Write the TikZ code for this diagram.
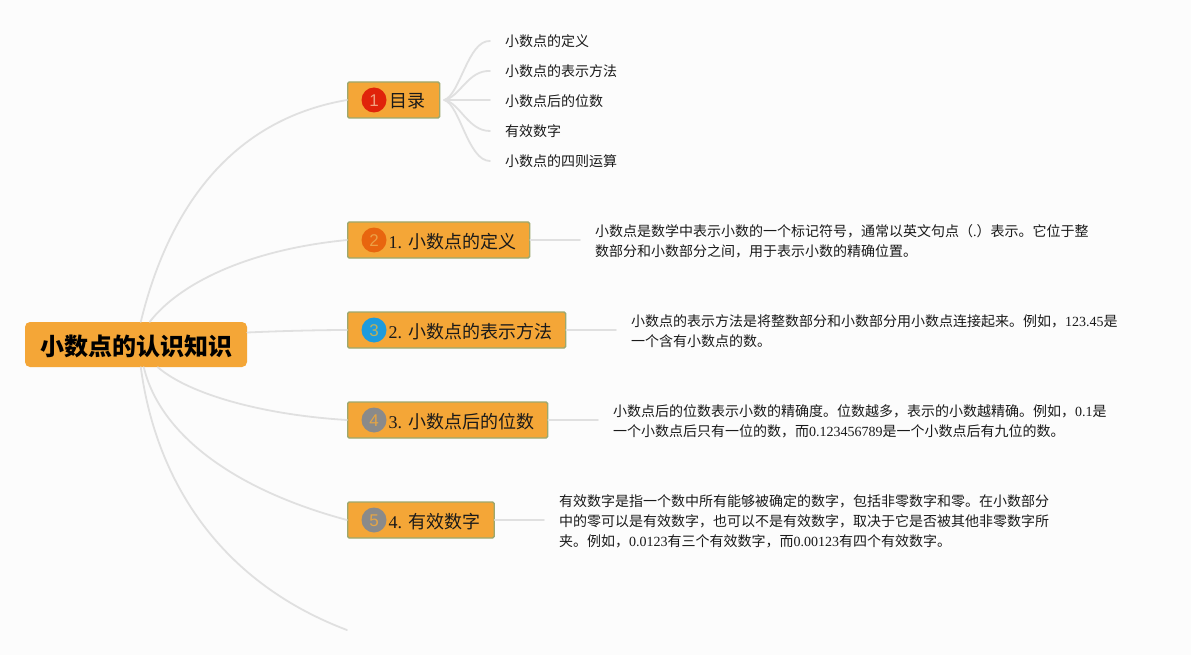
\documentclass[tikz,border=0pt]{standalone}
\usepackage{fontspec}
\usetikzlibrary{calc}
\setmainfont{Liberation Serif}
\newfontfamily\cjk{Noto Sans CJK SC}
\newfontfamily\badgefont{Liberation Sans}
\newcommand\zh[1]{{\cjk #1}}
\newcommand\lowered[2]{\raisebox{-#1}[\height][\depth]{#2}}
\definecolor{bgc}{HTML}{FCFCFC}
\definecolor{boxc}{HTML}{F4A637}
\definecolor{edgec}{HTML}{9CA86E}
\definecolor{linkc}{HTML}{E0E0E0}
\definecolor{txtc}{HTML}{1A1A1A}
\definecolor{bred}{HTML}{E0230A}
\definecolor{bredt}{HTML}{F0A080}
\definecolor{borange}{HTML}{E8650F}
\definecolor{borat}{HTML}{ECA046}
\definecolor{bblue}{HTML}{1E9BDC}
\definecolor{bbluet}{HTML}{BEAF5A}
\definecolor{bgray}{HTML}{8A8A8A}
\definecolor{bgrayt}{HTML}{E4A546}
\tikzset{
  x=1pt,y=-1pt,
  link/.style={draw=linkc,line width=1.8pt,line cap=round},
  rootbox/.style={fill=boxc,rounded corners=5pt,minimum width=222pt,minimum height=45pt,inner sep=0pt,font=\fontsize{24}{28}\selectfont\cjk\bfseries,text=black},
  branchbox/.style={fill=boxc,draw=edgec,line width=1.3pt,rounded corners=1.5pt,minimum height=36pt,inner sep=0pt,anchor=west},
  branchtext/.style={anchor=west,inner sep=0pt,font=\fontsize{18}{22}\selectfont,text=txtc},
  badge/.style={circle,minimum size=25pt,inner sep=0pt,font=\fontsize{17}{17}\selectfont\badgefont},
  leaf/.style={anchor=west,inner xsep=15pt,inner ysep=0pt,font=\fontsize{14}{20}\selectfont,text=txtc},
  detail/.style={anchor=west,inner xsep=15pt,inner ysep=0pt,align=left,font=\fontsize{14}{20}\selectfont,text=txtc},
}
\begin{document}
\begin{tikzpicture}
\path[fill=bgc] (0,0) rectangle (1191,655);
\useasboundingbox (0,0) rectangle (1191,655);
% boxes
\node[rootbox] (root) at (136,344.5) {\lowered{1.5pt}{小数点的认识知识}};
\node[branchbox,minimum width=92pt] (b1) at (347,100) {};
\node[branchbox,minimum width=182pt] (b2) at (347,240) {};
\node[branchbox,minimum width=218pt] (b3) at (347,330) {};
\node[branchbox,minimum width=200pt] (b4) at (347,420) {};
\node[branchbox,minimum width=146.5pt] (b5) at (347,520) {};
\node[badge,fill=bred,text=bredt] (c1) at (374,100) {\lowered{1pt}{1}};
\node[badge,fill=borange,text=borat] (c2) at (374,240) {\lowered{1pt}{2}};
\node[badge,fill=bblue,text=bbluet] (c3) at (374,330) {\lowered{1pt}{3}};
\node[badge,fill=bgray,text=bgrayt] (c4) at (374,420) {\lowered{1pt}{4}};
\node[badge,fill=bgray,text=bgrayt] (c5) at (374,520) {\lowered{1pt}{5}};
\node[branchtext] (t1) at (389,101.5) {\zh{目录}};
\node[branchtext] (t2) at (388.5,241.5) {1. \zh{小数点的定义}};
\node[branchtext] (t3) at (388.5,331.5) {2. \zh{小数点的表示方法}};
\node[branchtext] (t4) at (388.5,421.5) {3. \zh{小数点后的位数}};
\node[branchtext] (t5) at (388.5,521.5) {4. \zh{有效数字}};
% leaves
\node[leaf] (l1) at (490,41) {\zh{小数点的定义}};
\node[leaf] (l2) at (490,71) {\zh{小数点的表示方法}};
\node[leaf] (l3) at (490,101) {\zh{小数点后的位数}};
\node[leaf] (l4) at (490,131) {\zh{有效数字}};
\node[leaf] (l5) at (490,161) {\zh{小数点的四则运算}};
% details
\node[detail] (d2) at (580,241) {\zh{小数点是数学中表示小数的一个标记符号，通常以英文句点（}.\zh{）表示。它位于整}\\\zh{数部分和小数部分之间，用于表示小数的精确位置。}};
\node[detail] (d3) at (616,331) {\zh{小数点的表示方法是将整数部分和小数部分用小数点连接起来。例如，}123.45\zh{是}\\\zh{一个含有小数点的数。}};
\node[detail] (d4) at (598,421) {\zh{小数点后的位数表示小数的精确度。位数越多，表示的小数越精确。例如，}0.1\zh{是}\\\zh{一个小数点后只有一位的数，而}0.123456789\zh{是一个小数点后有九位的数。}};
\node[detail] (d5) at (544,521) {\zh{有效数字是指一个数中所有能够被确定的数字，包括非零数字和零。在小数部分}\\\zh{中的零可以是有效数字，也可以不是有效数字，取决于它是否被其他非零数字所}\\\zh{夹。例如，}0.0123\zh{有三个有效数字，而}0.00123\zh{有四个有效数字。}};
% free end and root ports
\coordinate (e6) at (347,630);
\coordinate (r1) at ($(root.north west)+(116,0)$);
\coordinate (r2) at ($(root.north west)+(125,0)$);
\coordinate (r3) at ($(root.east)+(0,-12)$);
\coordinate (r4) at ($(root.south west)+(133,0)$);
\coordinate (r5) at ($(root.south west)+(119,0)$);
\coordinate (r6) at ($(root.south west)+(116,0)$);
\coordinate (p1) at ($(b1.east)+(4,0)$);
% root links
\draw[link] (r1) .. controls (168,210) and (230,120) .. (b1.west);
\draw[link] (r2) .. controls (178,285) and (245,250) .. (b2.west);
\draw[link] (r3) .. controls (280,331) and (320,330) .. (b3.west);
\draw[link] (r4) .. controls (190,395) and (265,415) .. (b4.west);
\draw[link] (r5) .. controls (160,435) and (235,490) .. (b5.west);
\draw[link] (r6) .. controls (155,475) and (215,580) .. (e6);
% branch links
\draw[link] (p1) .. controls (460,95) and (468,40) .. (l1.west);
\draw[link] (p1) .. controls (460,97) and (468,70) .. (l2.west);
\draw[link] (p1) -- (l3.west |- p1);
\draw[link] (p1) .. controls (460,103) and (468,131) .. (l4.west);
\draw[link] (p1) .. controls (460,105) and (468,161) .. (l5.west);
\draw[link] (b2.east) -- (d2.west |- b2.east);
\draw[link] (b3.east) -- (d3.west |- b3.east);
\draw[link] (b4.east) -- (d4.west |- b4.east);
\draw[link] (b5.east) -- (d5.west |- b5.east);
\end{tikzpicture}
\end{document}
